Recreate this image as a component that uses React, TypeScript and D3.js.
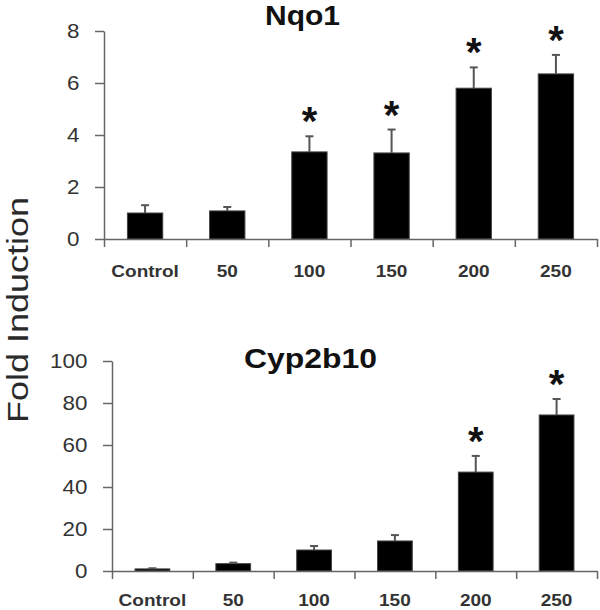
import React, { useEffect, useRef } from "react";
import * as d3 from "d3";

const categories = ["Control", "50", "100", "150", "200", "250"];
const nqo1Mean = [1.0, 1.08, 3.35, 3.31, 5.8, 6.35];
const nqo1Err = [0.3, 0.15, 0.6, 0.9, 0.8, 0.73];
const nqo1Sig = [false, false, true, true, true, true];
const nqo1Ticks = [0, 2, 4, 6, 8];

const cypMean = [1.0, 3.5, 10.0, 14.3, 47.1, 74.3];
const cypErr = [0.3, 0.5, 1.9, 2.8, 7.7, 7.6];
const cypSig = [false, false, false, false, true, true];
const cypTicks = [0, 20, 40, 60, 80, 100];

const FONT = "'Liberation Sans', Arial, sans-serif";

type Panel = {
  title: string;
  mean: number[];
  err: number[];
  sig: boolean[];
  ticks: number[];
  ymax: number;
  x0: number;
  x1: number;
  yTop: number;
  yBot: number;
  titleX0: number;
  titleX1: number;
  titleY: number;
  titleSize: number;
  labelOffset: number;
};

const panels: Panel[] = [
  {
    title: "Nqo1", mean: nqo1Mean, err: nqo1Err, sig: nqo1Sig, ticks: nqo1Ticks, ymax: 8,
    x0: 104, x1: 597, yTop: 31, yBot: 239, titleX0: 265, titleX1: 340, titleY: 25, titleSize: 27,
    labelOffset: 38,
  },
  {
    title: "Cyp2b10", mean: cypMean, err: cypErr, sig: cypSig, ticks: cypTicks, ymax: 100,
    x0: 112, x1: 597, yTop: 361, yBot: 571, titleX0: 244, titleX1: 377, titleY: 368, titleSize: 28,
    labelOffset: 35,
  },
];

export default function App() {
  const ref = useRef<SVGSVGElement | null>(null);

  useEffect(() => {
    const svg = d3.select(ref.current);
    svg.selectAll("*").remove();
    svg.append("rect").attr("width", 600).attr("height", 610).attr("fill", "#fff");

    // y label
    svg.append("text")
      .attr("transform", "translate(28,310) rotate(-90)")
      .attr("text-anchor", "middle")
      .attr("font-family", FONT)
      .attr("font-size", 29)
      .attr("fill", "#2a2a2a")
      .attr("textLength", 226)
      .attr("lengthAdjust", "spacingAndGlyphs")
      .text("Fold Induction");

    panels.forEach((p) => {
      const g = svg.append("g");
      const x = d3.scaleBand<string>().domain(categories).range([p.x0, p.x1])
        .paddingInner(0.57).paddingOuter(0.285);
      const y = d3.scaleLinear().domain([0, p.ymax]).range([p.yBot, p.yTop]);
      const bx = d3.scaleLinear().domain([0, categories.length]).range([p.x0, p.x1]);

      // bars
      g.selectAll("rect.bar").data(categories).enter().append("rect")
        .attr("x", (c) => x(c)!)
        .attr("width", x.bandwidth())
        .attr("y", (_, i) => y(p.mean[i]))
        .attr("height", (_, i) => p.yBot - y(p.mean[i]))
        .attr("fill", "#000")
        .attr("stroke", "#444")
        .attr("stroke-width", 1);

      // error bars
      categories.forEach((c, i) => {
        const cx = x(c)! + x.bandwidth() / 2;
        const top = y(p.mean[i] + p.err[i]);
        g.append("line").attr("x1", cx).attr("x2", cx)
          .attr("y1", y(p.mean[i])).attr("y2", top)
          .attr("stroke", "#555").attr("stroke-width", 2);
        g.append("line").attr("x1", cx - 4).attr("x2", cx + 4)
          .attr("y1", top).attr("y2", top)
          .attr("stroke", "#555").attr("stroke-width", 2);
        if (p.sig[i]) {
          g.append("text").attr("x", cx).attr("y", top - 1)
            .attr("text-anchor", "middle")
            .attr("font-family", FONT).attr("font-weight", "bold")
            .attr("font-size", 40).attr("fill", "#111")
            .text("*");
        }
      });

      // y axis
      const ya = g.append("g").attr("transform", `translate(${p.x0},0)`)
        .call(d3.axisLeft(y).tickValues(p.ticks).tickSize(9).tickSizeOuter(0).tickPadding(13));
      ya.select(".domain").attr("stroke", "#666").attr("stroke-width", 1.5);
      ya.selectAll(".tick line").attr("stroke", "#666").attr("stroke-width", 1.5);
      ya.selectAll(".tick text")
        .attr("font-family", FONT).attr("font-size", 20).attr("fill", "#333")
        .attr("transform", "scale(1.12,1)");

      // x axis (boundary ticks)
      const xa = g.append("g").attr("transform", `translate(0,${p.yBot})`)
        .call(d3.axisBottom(bx).ticks(categories.length).tickSize(8).tickSizeOuter(0).tickFormat(() => ""));
      xa.select(".domain").attr("stroke", "#666").attr("stroke-width", 1.5);
      xa.selectAll(".tick line").attr("stroke", "#666").attr("stroke-width", 1.5);

      // x labels
      g.selectAll("text.xl").data(categories).enter().append("text")
        .attr("class", "xl")
        .attr("transform", (c) => `translate(${x(c)! + x.bandwidth() / 2},${p.yBot + p.labelOffset}) scale(1.12,1)`)
        .attr("text-anchor", "middle")
        .attr("font-family", FONT).attr("font-weight", "bold")
        .attr("font-size", 17).attr("fill", "#333")
        .text((c) => c);

      // title
      g.append("text")
        .attr("x", p.titleX0).attr("y", p.titleY)
        .attr("font-family", FONT).attr("font-weight", "bold")
        .attr("font-size", p.titleSize).attr("fill", "#111")
        .attr("textLength", p.titleX1 - p.titleX0)
        .attr("lengthAdjust", "spacingAndGlyphs")
        .text(p.title);
    });
  }, []);

  return (
    <svg ref={ref} width={600} height={610}
      style={{ position: "absolute", left: 0, top: 0, display: "block" }} />
  );
}
